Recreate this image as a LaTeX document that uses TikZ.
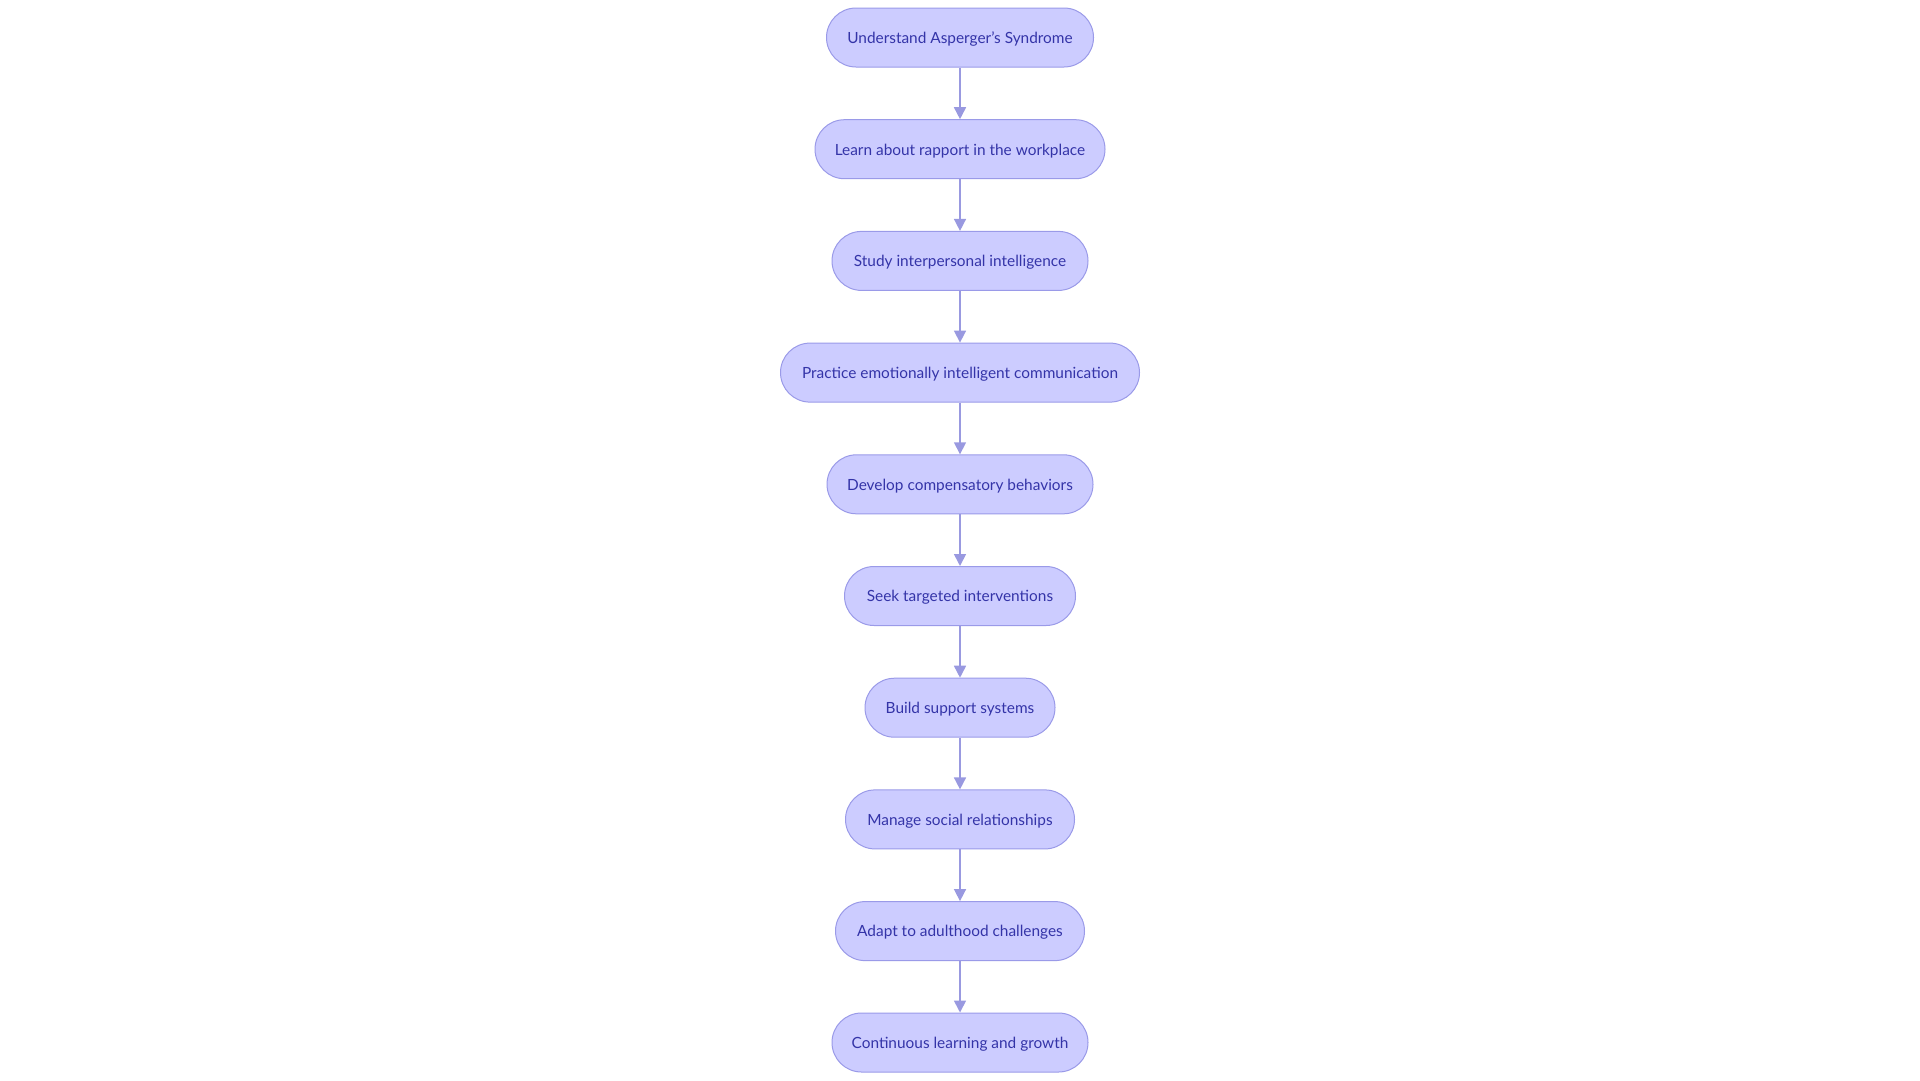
\documentclass[tikz,border=0pt]{standalone}
\usepackage{fontspec}
\setmainfont{Lato}
\usetikzlibrary{arrows.meta,positioning}
\definecolor{nodefill}{HTML}{CCCCFF}
\definecolor{nodeline}{HTML}{9A9AE8}
\definecolor{arrowcol}{HTML}{9999E0}
\definecolor{textcol}{HTML}{3434A8}
\tikzset{
  stadium/.style={draw=nodeline, fill=nodefill, line width=1pt,
    rounded corners=29.5pt, minimum height=59pt, inner sep=0pt,
    text height=11.6pt, text depth=0pt,
    text=textcol, font=\fontsize{15.4}{18}\selectfont},
  flow/.style={draw=arrowcol, line width=1.6pt,
    -{Triangle[length=12pt,width=12pt]}}
}
\begin{document}
\begin{tikzpicture}[x=1pt,y=-1pt]
\useasboundingbox (0,0) rectangle (1920,1080);
\node[stadium, minimum width=267pt] (n1) at (960,37.5) {Understand Asperger's Syndrome};
\node[stadium, minimum width=290pt] (n2) at (960,149.2) {Learn about rapport in the workplace};
\node[stadium, minimum width=256pt] (n3) at (960,260.9) {Study interpersonal intelligence};
\node[stadium, minimum width=359pt] (n4) at (960,372.6) {Practice emotionally intelligent communication};
\node[stadium, minimum width=266pt] (n5) at (960,484.3) {Develop compensatory behaviors};
\node[stadium, minimum width=231pt] (n6) at (960,596.0) {Seek targeted interventions};
\node[stadium, minimum width=190pt] (n7) at (960,707.7) {Build support systems};
\node[stadium, minimum width=229pt] (n8) at (960,819.4) {Manage social relationships};
\node[stadium, minimum width=249pt] (n9) at (960,931.1) {Adapt to adulthood challenges};
\node[stadium, minimum width=256pt] (n10) at (960,1042.5) {Continuous learning and growth};
\foreach \a/\b in {n1/n2,n2/n3,n3/n4,n4/n5,n5/n6,n6/n7,n7/n8,n8/n9,n9/n10}
  \draw[flow] (\a) -- (\b);
\end{tikzpicture}
\end{document}
